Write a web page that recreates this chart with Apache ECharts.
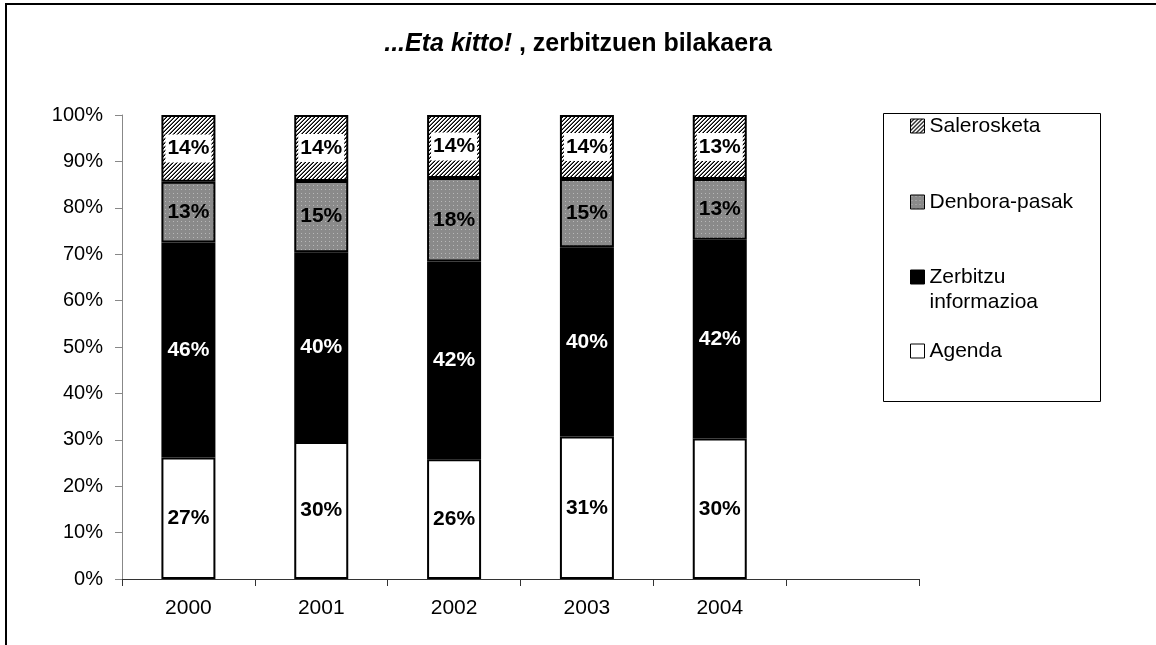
<!DOCTYPE html>
<html>
<head>
<meta charset="utf-8">
<script src="https://cdn.jsdelivr.net/npm/echarts@6/dist/echarts.min.js"></script>
<style>
html,body{margin:0;padding:0;background:#fff;}
#c{width:1156px;height:645px;}
</style>
</head>
<body>
<div id="c"></div>
<script>
// ---- data ----
const years = ['2000', '2001', '2002', '2003', '2004', ''];
const yTicks = [0, 10, 20, 30, 40, 50, 60, 70, 80, 90, 100];
// segment heights (share of the 100% bar)
const agenda      = [26.2, 29.5, 25.8, 30.7, 30.3];
const zerbitzu    = [46.3, 40.9, 42.6, 40.8, 42.8];
const denbora     = [13.1, 15.4, 18.0, 14.7, 13.1];
const salerosketa = [14.4, 14.2, 13.6, 13.8, 13.8];
// printed data labels
const agendaLbl      = [27, 30, 26, 31, 30];
const zerbitzuLbl    = [46, 40, 42, 40, 42];
const denboraLbl     = [13, 15, 18, 15, 13];
const salerosketaLbl = [14, 14, 14, 14, 13];
const seriesNames = ['Agenda', 'Zerbitzu informazioa', 'Denbora-pasak', 'Salerosketa'];

// ---- patterns ----
function hatchPattern() {
  const c = document.createElement('canvas'); c.width = 4; c.height = 4;
  const g = c.getContext('2d');
  g.fillStyle = '#fff'; g.fillRect(0, 0, 4, 4);
  for (let x = 0; x < 4; x++) for (let y = 0; y < 4; y++) {
    const s = (x + y) % 4;
    if (s === 3) { g.fillStyle = '#000'; g.fillRect(x, y, 1, 1); }
    else if (s === 2) { g.fillStyle = '#666'; g.fillRect(x, y, 1, 1); }
  }
  return c;
}
function dotPattern() {
  const c = document.createElement('canvas'); c.width = 4; c.height = 4;
  const g = c.getContext('2d');
  g.fillStyle = '#8a8a8a'; g.fillRect(0, 0, 4, 4);
  g.fillStyle = '#b8b8b8'; g.fillRect(1, 1, 1, 1);
  return c;
}
const hatch = { image: hatchPattern(), repeat: 'repeat' };
const dots = { image: dotPattern(), repeat: 'repeat' };

const FONT = 'Liberation Sans, Arial, sans-serif';

function mkSeries(name, data, lbls, color, lblColor, extraLbl) {
  return {
    name: name, type: 'bar', stack: 'tot', barWidth: 54,
    data: data,
    itemStyle: { color: color, borderColor: '#000', borderWidth: 2 },
    label: Object.assign({
      show: true, position: 'inside', color: lblColor,
      fontFamily: FONT, fontWeight: 'bold', fontSize: 21,
      formatter: p => lbls[p.dataIndex] + '%'
    }, extraLbl || {})
  };
}

function legendAt(name, top, fmt, lh) {
  return {
    data: [name], orient: 'vertical', left: 910, top: top, padding: 0,
    itemWidth: 14, itemHeight: 14, itemGap: 0,
    icon: 'rect', selectedMode: false,
    itemStyle: { borderColor: '#000', borderWidth: 1 },
    textStyle: { fontFamily: FONT, fontSize: 21, color: '#000', lineHeight: lh || 24 },
    formatter: fmt || (n => n)
  };
}

const chart = echarts.init(document.getElementById('c'), null, { renderer: 'canvas' });
chart.setOption({
  animation: false,
  backgroundColor: '#fff',
  title: {
    text: '{i|...Eta kitto!}{b| , zerbitzuen bilakaera}',
    left: 'center', top: 27,
    textStyle: {
      rich: {
        i: { fontFamily: FONT, fontSize: 25, fontWeight: 'bold', fontStyle: 'italic', color: '#000' },
        b: { fontFamily: FONT, fontSize: 25, fontWeight: 'bold', color: '#000' }
      }
    }
  },
  graphic: [
    { type: 'rect', shape: { x: 6, y: 4, width: 1300, height: 800 }, style: { fill: null, stroke: '#000', lineWidth: 2 }, silent: true, z: 100 },
    { type: 'rect', shape: { x: 883.5, y: 113.5, width: 217, height: 288 }, style: { fill: null, stroke: '#000', lineWidth: 1 }, silent: true }
  ],
  legend: [
    legendAt('Salerosketa', 114),
    legendAt('Denbora-pasak', 190),
    legendAt('Zerbitzu informazioa', 239.5, () => ' \nZerbitzu\ninformazioa', 25),
    legendAt('Agenda', 339)
  ],
  grid: { left: 122, top: 115, width: 797, height: 464, containLabel: false },
  xAxis: {
    type: 'category', data: years, boundaryGap: true,
    axisLine: { lineStyle: { color: '#333', width: 1 } },
    axisTick: { show: true, interval: 0, length: 7, lineStyle: { color: '#333' } },
    axisLabel: { interval: 0, margin: 19, color: '#000', fontFamily: FONT, fontSize: 21 }
  },
  yAxis: {
    type: 'value', min: 0, max: 100, interval: 10,
    axisLine: { show: true, lineStyle: { color: '#888', width: 1 } },
    axisTick: { show: true, length: 7, lineStyle: { color: '#888' } },
    splitLine: { show: false },
    axisLabel: { margin: 19, color: '#000', fontFamily: FONT, fontSize: 20,
      formatter: v => yTicks.indexOf(v) >= 0 ? v + '%' : '' }
  },
  series: [
    mkSeries(seriesNames[0], agenda, agendaLbl, '#fff', '#000'),
    mkSeries(seriesNames[1], zerbitzu, zerbitzuLbl, '#000', '#fff'),
    mkSeries(seriesNames[2], denbora, denboraLbl, dots, '#000'),
    mkSeries(seriesNames[3], salerosketa, salerosketaLbl, hatch, '#000',
      { backgroundColor: '#fff', padding: [4, 2, 3, 2] })
  ]
});
</script>
</body>
</html>
